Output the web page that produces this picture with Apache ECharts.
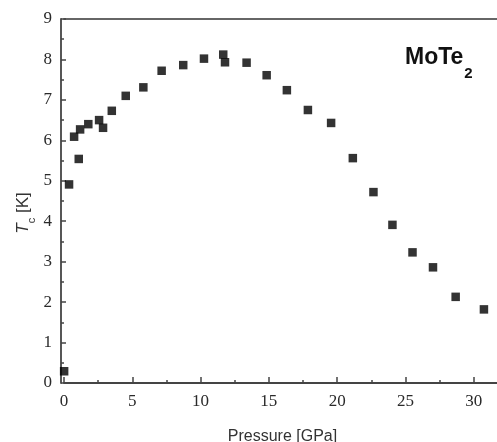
<!DOCTYPE html>
<html>
<head>
<meta charset="utf-8">
<script src="https://cdn.jsdelivr.net/npm/echarts@6/dist/echarts.min.js"></script>
<style>
html,body{margin:0;padding:0;background:#fff;}
#chart{width:497px;height:442px;}
</style>
</head>
<body>
<div id="chart"></div>
<script>
// Pressure (GPa)
var pressure = [0.01, 0.37, 0.74, 1.08, 1.18, 1.78, 2.57, 2.86, 3.50, 4.52, 5.81, 7.15, 8.73, 10.25, 11.66, 11.79, 13.37, 14.84, 16.32, 17.86, 19.56, 21.15, 22.66, 24.05, 25.52, 27.02, 28.68, 30.75];
// Tc (K)
var tc = [0.29, 4.91, 6.09, 5.54, 6.27, 6.40, 6.50, 6.31, 6.73, 7.10, 7.31, 7.72, 7.86, 8.02, 8.12, 7.93, 7.92, 7.61, 7.24, 6.75, 6.43, 5.56, 4.72, 3.91, 3.23, 2.86, 2.13, 1.82];
var xTicks = [0, 5, 10, 15, 20, 25, 30];
var yTicks = [0, 1, 2, 3, 4, 5, 6, 7, 8, 9];
var sampleLabel = 'MoTe';
var sampleSub = '2';

var points = pressure.map(function (p, i) { return [p, tc[i]]; });

var axisColor = '#444';
var labelStyle = { fontFamily: 'Liberation Serif', fontSize: 17, color: '#2a2a2a' };

var chart = echarts.init(document.getElementById('chart'), null, { renderer: 'canvas' });
chart.setOption({
  backgroundColor: '#fff',
  animation: false,
  grid: { left: 64, right: -4, top: 19, bottom: 59, containLabel: false, outerBoundsMode: 'none' },
  xAxis: [{
    type: 'value',
    position: 'bottom',
    min: 0, max: 32, interval: 5,
    name: 'Pressure [GPa]',
    nameLocation: 'middle',
    nameGap: 46,
    nameTextStyle: { fontFamily: 'Liberation Sans', fontSize: 16, color: '#333' },
    axisLine: { show: true, onZero: false, lineStyle: { color: axisColor, width: 1.8 } },
    axisTick: { show: true, inside: true, length: 6, lineStyle: { color: axisColor, width: 1.5 } },
    minorTick: { show: true, splitNumber: 2, length: 3, lineStyle: { color: axisColor, width: 1.5 } },
    axisLabel: Object.assign({ margin: 10, formatter: function (v) { return xTicks.indexOf(v) >= 0 ? String(v) : ''; } }, labelStyle),
    splitLine: { show: false }
  }, {
    type: 'value',
    position: 'top',
    min: 0, max: 32, interval: 5,
    axisLine: { show: true, onZero: false, lineStyle: { color: '#666', width: 1.8 } },
    axisTick: { show: false },
    axisLabel: { show: false },
    splitLine: { show: false }
  }],
  yAxis: [{
    type: 'value',
    position: 'left',
    offset: 3,
    min: 0, max: 9, interval: 1,
    axisLine: { show: true, onZero: false, lineStyle: { color: axisColor, width: 1.8 } },
    axisTick: { show: true, inside: true, length: 5, lineStyle: { color: axisColor, width: 1.5 } },
    minorTick: { show: true, splitNumber: 2, length: 3, lineStyle: { color: axisColor, width: 1.5 } },
    axisLabel: Object.assign({ margin: 9, formatter: function (v) { return yTicks.indexOf(v) >= 0 ? String(v) : ''; } }, labelStyle),
    splitLine: { show: false }
  }],
  graphic: [{
    type: 'text',
    x: 23,
    y: 213,
    rotation: Math.PI / 2,
    style: {
      text: '{t|T}{c|c}{k| [K]}',
      align: 'center',
      verticalAlign: 'middle',
      rich: {
        t: { fontFamily: 'Liberation Sans', fontStyle: 'italic', fontSize: 17, fill: '#333', lineHeight: 22, verticalAlign: 'middle' },
        c: { fontFamily: 'Liberation Sans', fontSize: 11, fill: '#333', lineHeight: 22, verticalAlign: 'bottom', padding: [0, 0, -3, 0] },
        k: { fontFamily: 'Liberation Sans', fontSize: 17, fill: '#333', lineHeight: 22, verticalAlign: 'middle' }
      }
    }
  }, {
    type: 'text',
    left: 405,
    top: 46,
    style: {
      text: '{a|' + sampleLabel + '}{b|' + sampleSub + '}',
      rich: {
        a: { fontFamily: 'Liberation Sans', fontWeight: 'bold', fontSize: 23, fill: '#111', lineHeight: 28, verticalAlign: 'middle' },
        b: { fontFamily: 'Liberation Sans', fontWeight: 'bold', fontSize: 15, fill: '#111', lineHeight: 28, verticalAlign: 'bottom', padding: [0, 0, -10, 1] }
      }
    }
  }],
  series: [{
    type: 'scatter',
    xAxisIndex: 0,
    yAxisIndex: 0,
    symbol: 'rect',
    symbolSize: 8.5,
    itemStyle: { color: '#000' },
    data: points
  }]
});
</script>
</body>
</html>
